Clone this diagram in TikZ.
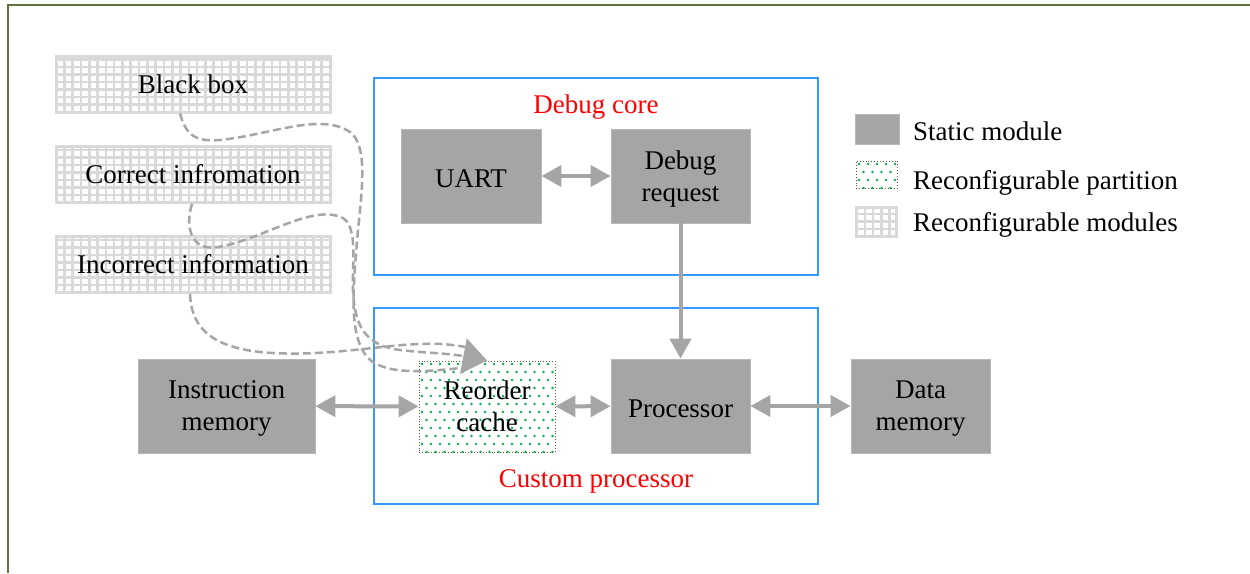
\documentclass[tikz,border=0pt]{standalone}
\usepackage{fontspec}
\setmainfont{Liberation Serif}
\usetikzlibrary{arrows.meta}

\definecolor{statgray}{RGB}{165,165,165}
\definecolor{gridgray}{RGB}{217,217,217}
\definecolor{boxblue}{RGB}{51,153,255}
\definecolor{dotgreen}{RGB}{0,176,80}
\definecolor{framegreen}{RGB}{95,115,65}
\definecolor{rimolive}{RGB}{85,95,60}
\definecolor{linkgray}{RGB}{165,165,165}
\definecolor{labelred}{RGB}{255,0,0}

\begin{document}
\begin{tikzpicture}[x=1pt,y=-1pt,
  font=\fontsize{27}{32}\selectfont,
  staticbox/.style={fill=statgray, draw=statgray!80!white, line width=0.8,
    inner sep=0, align=center},
  twoline/.style={text depth=0pt},
  oneline/.style={text height=22pt, text depth=0pt},
  gridfill/.style={path picture={
    \foreach \k in {0,...,40}
      \draw[gridgray, line width=2.6]
        ([xshift=\k*8.3pt]path picture bounding box.south west) --
        ([xshift=\k*8.3pt]path picture bounding box.north west);
    \foreach \k in {0,...,10}
      \draw[gridgray, line width=2.6]
        ([yshift=\k*7.5pt]path picture bounding box.south west) --
        ([yshift=\k*7.5pt]path picture bounding box.south east);
  }},
  modbox/.style={gridfill, fill=white, draw=gridgray, line width=3,
    minimum width=274, minimum height=56, inner sep=0},
  dotfill/.style={path picture={
    \foreach \j in {0,...,12}
      \foreach \i in {0,...,16}
        \fill[dotgreen]
          ([xshift={\i*9+3+mod(\j,2)*4.5}, yshift={-\j*8-3}]path picture bounding box.north west)
          circle[radius=1.3pt];
  }},
  partbox/.style={dotfill, fill=white, draw=rimolive, dotted, line width=0.9,
    inner sep=0, align=center},
  groupbox/.style={draw=boxblue, line width=2, inner sep=0,
    minimum width=444},
  grouplabel/.style={text=labelred, inner sep=0, anchor=base},
  legendtext/.style={inner sep=0, anchor=base west},
  biarrow/.style={draw=linkgray, line width=4,
    {Triangle[length=20pt,width=21pt]}-{Triangle[length=20pt,width=21pt]}},
  uniarrow/.style={draw=linkgray, line width=4,
    -{Triangle[length=20pt,width=21pt]}},
  dashlink/.style={draw=linkgray, line width=2.5, dash pattern=on 8pt off 4pt},
]
\useasboundingbox (0,0) rectangle (1250,573);

% outer frame (top and left edges)
\draw[framegreen, line width=2] (7.7,573) -- (7.7,5) -- (1250,5);

% debug core and custom processor groups
\node[groupbox, minimum height=197] (dbg) at (596,176.5) {};
\node[groupbox, minimum height=196] (cpu) at (596,406) {};
\node[grouplabel] (dbglbl) at (596,113) {Debug core};
\node[grouplabel] (cpulbl) at (596,487) {Custom processor};

% reconfigurable modules
\node[modbox] (bb)  at (193,84)    {Black box};
\node[modbox] (cor) at (193,174.5) {Correct infromation};
\node[modbox] (inc) at (193,264.5) {Incorrect information};

% static modules
\node[staticbox, oneline, minimum width=140, minimum height=94] (uart) at (471,176)   {UART};
\node[staticbox, twoline, minimum width=139, minimum height=94] (dr)   at (680.5,176) {Debug\\request};
\node[staticbox, twoline, minimum width=177, minimum height=94] (im)   at (226.5,406) {Instruction\\memory};
\node[staticbox, oneline, minimum width=139, minimum height=94] (proc) at (680.5,406) {Processor};
\node[staticbox, twoline, minimum width=139, minimum height=94] (dm)   at (920.5,406) {Data\\memory};

% reconfigurable partition
\node[partbox, minimum width=136, minimum height=91] (rc) at (487,406.5) {Reorder\\cache};

% legend
\node[staticbox, minimum width=44, minimum height=30] (ls) at (877,129) {};
\node[partbox, minimum width=41, minimum height=27] (lp) at (876.5,174.5) {};
\node[modbox, minimum width=40, minimum height=29] (lm) at (876.5,222) {};
\node[legendtext] (lst) at (913,140) {Static module};
\node[legendtext] (lpt) at (913,189) {Reconfigurable partition};
\node[legendtext] (lmt) at (913,231) {Reconfigurable modules};

% module loading paths into the partition
\coordinate (m1) at (460,368);
\coordinate (m2) at (463,356);
\coordinate (m3) at (465,347);
\draw[dashlink] ([xshift=-13pt]bb.south) .. controls (186,135) and (195,142) .. (220,140)
  .. controls (270,135) and (320,112) .. (350,132)
  .. controls (368,145) and (362,190) .. (358,230)
  .. controls (353,290) and (348,335) .. (368,358)
  .. controls (385,375) and (425,372) .. (m1);
\draw[dashlink] ([xshift=-1pt]cor.south) .. controls (185,225) and (190,252) .. (218,247)
  .. controls (262,240) and (312,203) .. (343,218)
  .. controls (358,228) and (352,262) .. (353,292)
  .. controls (355,322) and (362,345) .. (400,350)
  .. controls (425,353) and (445,353) .. (m2);
\draw[dashlink] ([xshift=-3pt]inc.south) .. controls (191,322) and (205,346) .. (260,352)
  .. controls (320,358) and (380,345) .. (420,344)
  .. controls (440,343) and (455,345) .. (m3);
\draw[draw=linkgray, line width=1, -{Triangle[length=24pt,width=36pt]}] (m2) -- (rc.north);

% data paths
\draw[biarrow] (uart) -- (dr);
\draw[uniarrow] (dr) -- (proc);
\draw[biarrow] (im) -- (rc);
\draw[biarrow] (rc) -- (proc);
\draw[biarrow] (proc) -- (dm);
\end{tikzpicture}
\end{document}
